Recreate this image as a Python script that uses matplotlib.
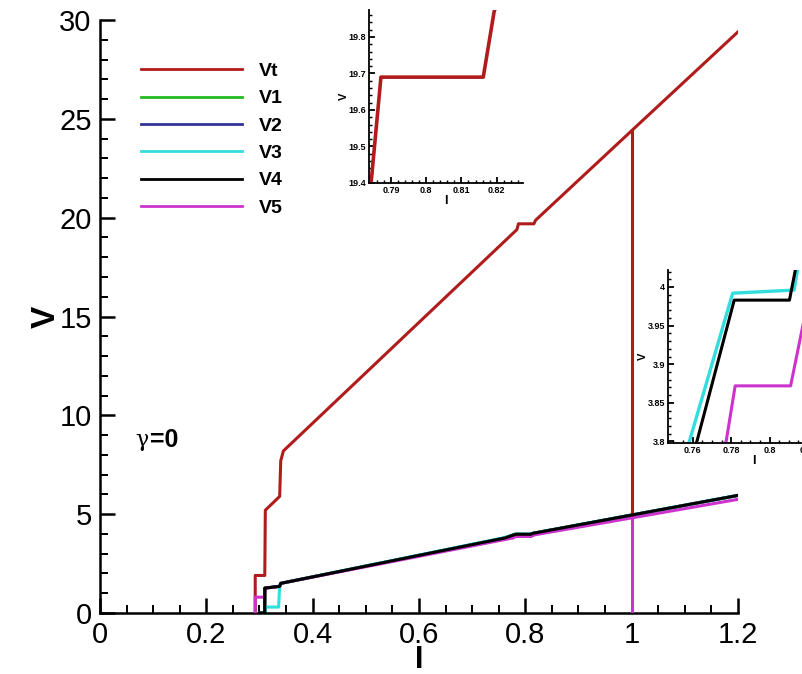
import numpy as np
import matplotlib
matplotlib.use('Agg')
from matplotlib import pyplot as plt
from matplotlib.ticker import MultipleLocator

plt.rcParams['font.family'] = ['Liberation Sans', 'DejaVu Sans']

# 数据 (从图上读出来的)
vt_i = [0.292, 0.292, 0.310, 0.311, 0.338, 0.340, 0.345, 0.7843, 0.7871, 0.8162, 0.8193, 1.0, 1.2]
vt_v = [0.0, 1.9, 1.9, 5.2, 5.9, 7.7, 8.2, 19.40, 19.69, 19.69, 19.87, 24.4, 29.4]
vt_drop_i = [1.0, 1.0]
vt_drop_v = [24.4, 4.95]

v4_i = [0.300, 0.310, 0.310, 0.338, 0.340, 0.7622, 0.7816, 0.8103, 0.814, 1.2]
v4_v = [0.0, 0.0, 1.26, 1.35, 1.50, 3.80, 3.983, 3.983, 4.03, 5.95]
v1_i = v4_i
v1_v = v4_v
v2_i = v4_i
v2_v = v4_v
v3_i = [0.310, 0.312, 0.336, 0.338, 0.340, 0.7583, 0.7808, 0.8127, 0.815, 1.2]
v3_v = [0.0, 0.3, 0.3, 1.35, 1.50, 3.80, 3.992, 3.996, 4.03, 5.95]
v5_i = [0.292, 0.292, 0.310, 0.311, 0.338, 0.340, 0.7774, 0.7821, 0.8109, 0.8176, 1.2]
v5_v = [0.0, 0.8, 0.8, 1.26, 1.35, 1.50, 3.80, 3.872, 3.872, 3.954, 5.75]
v5_drop_i = [1.0, 1.0]
v5_drop_v = [4.95, 0.0]

names = ['Vt', 'V1', 'V2', 'V3', 'V4', 'V5']
colors = ['#b01c1c', '#22bb22', '#333399', '#33dddd', '#000000', '#cc33cc']
series = [(vt_i, vt_v), (v1_i, v1_v), (v2_i, v2_v), (v3_i, v3_v), (v4_i, v4_v), (v5_i, v5_v)]
zord = [3, 2, 2, 2, 5, 4]


def style_axes(ax, lw, major, minor):
    ax.spines['top'].set_visible(False)
    ax.spines['right'].set_visible(False)
    ax.spines['left'].set_linewidth(lw)
    ax.spines['bottom'].set_linewidth(lw)
    ax.tick_params(which='major', direction='in', length=major, width=lw)
    ax.tick_params(which='minor', direction='in', length=minor, width=lw * 0.8)


fig = plt.figure(figsize=(8.03, 6.74), dpi=100)
ax = fig.add_axes([0.1245, 0.0905, 0.7945, 0.8798])

for (xs, ys), c, n, z in zip(series, colors, names, zord):
    ax.plot(xs, ys, color=c, lw=2.2, label=n, zorder=z)
ax.plot(vt_drop_i, vt_drop_v, color=colors[0], lw=2.2, zorder=3)
ax.plot(v5_drop_i, v5_drop_v, color=colors[5], lw=2.2, zorder=4)

ax.set_xlim(0, 1.2)
ax.set_ylim(0, 30)
ax.xaxis.set_minor_locator(MultipleLocator(0.05))
ax.yaxis.set_major_locator(MultipleLocator(5))
ax.yaxis.set_minor_locator(MultipleLocator(1))
ax.set_xticks([0, 0.2, 0.4, 0.6, 0.8, 1.0, 1.2])
ax.set_xticklabels(['0', '0.2', '0.4', '0.6', '0.8', '1', '1.2'])
style_axes(ax, 1.8, 11, 6)
ax.tick_params(labelsize=21, pad=6)
ax.set_xlabel('I', fontsize=22, fontweight='bold', labelpad=-3)
ax.set_ylabel('V', fontsize=24, fontweight='bold', labelpad=-2)

leg = ax.legend(loc='upper left', bbox_to_anchor=(0.037, 0.958), frameon=False,
                handlelength=5.2, fontsize=14, labelspacing=0.5, handletextpad=0.87)
for t in leg.get_texts():
    t.set_fontweight('bold')
for l in leg.get_lines():
    l.set_linewidth(2.0)

ax.text(0.055, 0.292, '\u03b3', transform=ax.transAxes, fontsize=16, va='center',
        family=['DejaVu Serif'])
ax.text(0.078, 0.292, '=0', transform=ax.transAxes, fontsize=18, fontweight='bold', va='center')

# 小图1 : Vt 平台
ins1 = fig.add_axes([0.4595, 0.7285, 0.1918, 0.2567])
ins1.plot(vt_i, vt_v, color=colors[0], lw=2.6)
ins1.set_xlim(0.7837, 0.8275)
ins1.set_ylim(19.4, 19.874)
ins1.set_xticks([0.79, 0.80, 0.81, 0.82])
ins1.set_xticklabels(['0.79', '0.8', '0.81', '0.82'])
ins1.xaxis.set_minor_locator(MultipleLocator(0.002))
ins1.set_yticks([19.4, 19.5, 19.6, 19.7, 19.8])
ins1.yaxis.set_minor_locator(MultipleLocator(0.02))
style_axes(ins1, 1.3, 4, 2)
ins1.tick_params(labelsize=6.5, pad=2)
for t in ins1.get_xticklabels() + ins1.get_yticklabels():
    t.set_fontweight('bold')
ins1.set_xlabel('I', fontsize=9, fontweight='bold', labelpad=0)
ins1.set_ylabel('V', fontsize=8, fontweight='bold', labelpad=0)

# 小图2 : V3 V4 V5 平台
ins2 = fig.add_axes([0.8319, 0.3427, 0.214, 0.2567])
ins2.plot(v3_i, v3_v, color=colors[3], lw=2.4)
ins2.plot(v4_i, v4_v, color=colors[4], lw=2.2)
ins2.plot(v5_i, v5_v, color=colors[5], lw=2.2)
ins2.set_xlim(0.7472, 0.8365)
ins2.set_ylim(3.798, 4.022)
ins2.set_xticks([0.76, 0.78, 0.80, 0.82])
ins2.set_xticklabels(['0.76', '0.78', '0.8', '0.82'])
ins2.xaxis.set_minor_locator(MultipleLocator(0.005))
ins2.set_yticks([3.8, 3.85, 3.9, 3.95, 4.0])
ins2.set_yticklabels(['3.8', '3.85', '3.9', '3.95', '4'])
ins2.yaxis.set_minor_locator(MultipleLocator(0.01))
style_axes(ins2, 1.3, 4, 2)
ins2.tick_params(labelsize=6.5, pad=2)
for t in ins2.get_xticklabels() + ins2.get_yticklabels():
    t.set_fontweight('bold')
ins2.set_xlabel('I', fontsize=9, fontweight='bold', labelpad=0)
ins2.set_ylabel('V', fontsize=8, fontweight='bold', labelpad=0)

fig.savefig('out.png', dpi=100)
